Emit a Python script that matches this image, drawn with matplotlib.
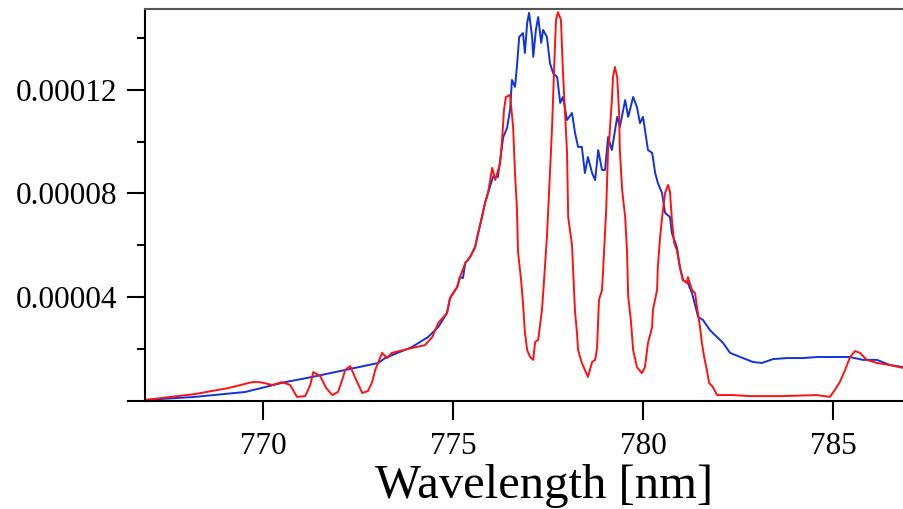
import numpy as np
import matplotlib.pyplot as plt
from matplotlib.ticker import MultipleLocator, FuncFormatter

plt.rcParams['font.family'] = ['Liberation Serif', 'DejaVu Serif']

# blue trace (wavelength nm, intensity in units of 1e-5)
wl_blue = [766.89, 768.21, 769.53, 770.58, 771.29, 772.16, 773.03, 773.21, 773.92, 774.34,
           774.61, 774.84, 774.92, 775.11, 775.18, 775.26, 775.32, 775.45, 775.58, 775.66,
           775.76, 775.84, 775.92, 776.05, 776.18, 776.32, 776.42, 776.50, 776.55, 776.63,
           776.68, 776.74, 776.84, 776.89, 776.95, 777.00, 777.08, 777.11, 777.18, 777.24,
           777.32, 777.37, 777.47, 777.55, 777.63, 777.74, 777.82, 777.89, 778.00, 778.13,
           778.21, 778.29, 778.39, 778.47, 778.55, 778.66, 778.74, 778.82, 778.92, 779.00,
           779.08, 779.18, 779.32, 779.39, 779.53, 779.61, 779.74, 779.84, 779.92, 780.00,
           780.13, 780.24, 780.32, 780.39, 780.50, 780.58, 780.71, 780.76, 780.89, 780.97,
           781.05, 781.18, 781.29, 781.45, 781.58, 781.76, 781.95, 782.11, 782.29, 782.63,
           782.89, 783.13, 783.42, 783.79, 784.21, 784.58, 785.00, 785.45, 785.79, 786.16,
           786.50, 786.84]
int_blue = [0.02, 0.14, 0.33, 0.71, 0.91, 1.18, 1.45, 1.64, 2.07, 2.45,
            2.84, 3.38, 3.96, 4.39, 4.77, 4.73, 5.31, 5.55, 5.93, 6.47,
            7.09, 7.63, 8.02, 8.64, 8.64, 10.18, 10.53, 11.23, 12.39, 12.12,
            12.89, 14.05, 14.20, 13.43, 14.59, 14.98, 14.05, 13.28, 14.32, 14.82,
            13.82, 14.32, 14.05, 13.04, 12.66, 12.50, 11.50, 11.73, 10.84, 11.11,
            10.34, 9.80, 9.80, 8.79, 9.41, 8.79, 8.52, 9.68, 8.91, 8.91,
            10.18, 9.68, 10.96, 10.57, 11.61, 10.96, 11.73, 11.34, 10.72, 10.96,
            9.68, 9.57, 8.79, 8.41, 8.02, 7.25, 7.09, 6.47, 5.93, 5.16,
            4.66, 4.54, 4.15, 3.23, 3.11, 2.72, 2.45, 2.22, 1.84, 1.64,
            1.49, 1.45, 1.60, 1.64, 1.64, 1.68, 1.68, 1.68, 1.57, 1.57,
            1.37, 1.29]

# red trace
wl_red = [766.89, 768.21, 769.08, 769.71, 769.92, 770.24, 770.50, 770.71, 770.89, 771.11,
          771.24, 771.32, 771.50, 771.66, 771.82, 771.97, 772.08, 772.16, 772.29, 772.45,
          772.61, 772.76, 772.87, 772.95, 773.13, 773.26, 773.39, 773.92, 774.26, 774.45,
          774.61, 774.84, 774.92, 775.11, 775.18, 775.32, 775.45, 775.58, 775.66, 775.76,
          775.84, 775.92, 776.03, 776.11, 776.24, 776.29, 776.34, 776.39, 776.50, 776.58,
          776.63, 776.68, 776.71, 776.79, 776.84, 776.89, 776.95, 777.03, 777.11, 777.16,
          777.24, 777.34, 777.39, 777.47, 777.53, 777.61, 777.66, 777.71, 777.76, 777.84,
          777.89, 777.95, 778.00, 778.03, 778.13, 778.16, 778.21, 778.26, 778.29, 778.39,
          778.47, 778.55, 778.66, 778.74, 778.79, 778.84, 778.92, 778.95, 779.03, 779.08,
          779.11, 779.18, 779.21, 779.26, 779.32, 779.37, 779.39, 779.45, 779.53, 779.58,
          779.61, 779.68, 779.74, 779.84, 779.97, 780.05, 780.13, 780.24, 780.26, 780.37,
          780.39, 780.45, 780.50, 780.58, 780.66, 780.71, 780.76, 780.82, 780.89, 780.97,
          781.05, 781.16, 781.18, 781.29, 781.37, 781.42, 781.50, 781.55, 781.61, 781.68,
          781.74, 781.84, 781.95, 782.37, 782.82, 783.68, 784.58, 784.92, 785.05, 785.18,
          785.32, 785.45, 785.58, 785.71, 785.89, 786.16, 786.50, 786.84]
int_red = [0.02, 0.25, 0.48, 0.71, 0.71, 0.60, 0.71, 0.60, 0.14, 0.17,
           0.60, 1.10, 0.95, 0.48, 0.21, 0.33, 0.79, 1.18, 1.33, 0.79,
           0.29, 0.37, 0.71, 1.18, 1.84, 1.64, 1.84, 2.03, 2.14, 2.45,
           3.00, 3.38, 3.96, 4.39, 4.77, 5.31, 5.55, 5.93, 6.47, 7.09,
           7.63, 8.02, 8.99, 8.52, 9.18, 10.07, 11.23, 11.73, 11.81, 10.57,
           8.79, 7.44, 5.74, 4.66, 3.77, 2.65, 1.95, 1.68, 1.57, 2.26,
           2.34, 3.50, 4.54, 6.32, 8.14, 10.72, 12.89, 14.71, 15.01, 14.71,
           12.77, 11.03, 9.57, 7.09, 6.01, 5.04, 3.42, 2.65, 1.95, 1.45,
           1.18, 0.91, 1.49, 1.57, 2.03, 3.88, 4.27, 5.04, 7.36, 9.68,
           10.07, 11.61, 12.50, 12.89, 12.50, 11.11, 9.68, 8.14, 7.09, 5.70,
           4.00, 3.11, 1.95, 1.29, 1.06, 1.29, 2.22, 2.84, 3.50, 4.27,
           5.16, 6.32, 7.05, 8.02, 8.33, 8.06, 6.98, 6.09, 5.82, 5.16,
           4.66, 4.54, 4.77, 4.27, 4.15, 3.61, 2.84, 2.22, 1.68, 1.18,
           0.68, 0.52, 0.21, 0.21, 0.17, 0.17, 0.21, 0.14, 0.41, 0.71,
           1.18, 1.68, 1.91, 1.84, 1.57, 1.45, 1.37, 1.26]

fig = plt.figure(figsize=(9.04, 5.09), dpi=100)
ax = fig.add_axes([145/904, 108.5/509, 759/904, 391.5/509])

ax.plot(wl_blue, np.array(int_blue) * 1e-5, color='#1133dd', lw=1.4)
ax.plot(wl_red, np.array(int_red) * 1e-5, color='#ff1111', lw=1.4)

ax.set_xlim(766.89, 786.87)
ax.set_ylim(0, 1.513e-4)

ax.xaxis.set_major_locator(MultipleLocator(5))
ax.yaxis.set_major_locator(MultipleLocator(4e-5))
ax.yaxis.set_minor_locator(MultipleLocator(2e-5))
ax.yaxis.set_major_formatter(FuncFormatter(lambda v, p: '' if v == 0 else f'{v:.5f}'))

ax.spines['right'].set_visible(False)
for s in ['left', 'bottom', 'top']:
    ax.spines[s].set_linewidth(1.5)
ax.spines['top'].set_color('#555555')

ax.tick_params(axis='both', which='major', direction='out', length=13, width=1.5,
               labelsize=22.5, pad=7)
ax.tick_params(axis='x', which='major', length=14, pad=9)
ax.tick_params(axis='y', which='minor', direction='out', length=6, width=1.5)

ax.set_xlabel('Wavelength [nm]', fontsize=35, va='baseline')
ax.xaxis.set_label_coords(0.526, -0.249)

fig.savefig('out.png', dpi=100)
